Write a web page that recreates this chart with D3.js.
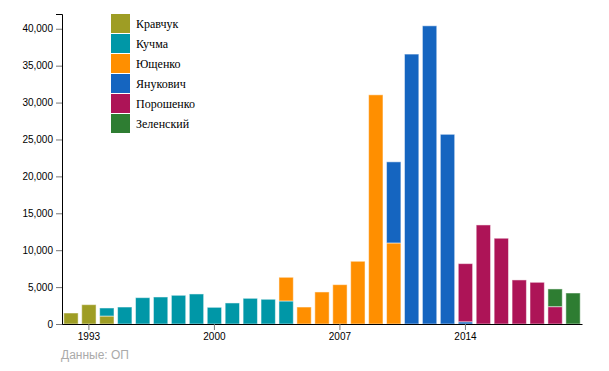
<!DOCTYPE html>
<html>
<head>
<meta charset="utf-8">
<script src="https://cdn.jsdelivr.net/npm/d3@7"></script>
<style>
    body { margin: 0; background: #fff; }
    .axis text { font-family: "Liberation Sans", Arial, sans-serif; font-size: 10px; fill: #000; }
    .axis .tick line { stroke: #777; }
</style>
</head>
<body>
<svg id="chart"></svg>
<script>
const years = d3.range(1992, 2021);
const presidents = ["Кравчук", "Кучма", "Ющенко", "Янукович", "Порошенко", "Зеленский"];
const colors = ["#9e9d24", "#0097a7", "#ff8f00", "#1565c0", "#ad1457", "#2e7d32"];
const xTicks = [1993, 2000, 2007, 2014];

// values per year, 1992..2020
const kravchuk  = [1490, 2620, 1080, 0, 0, 0, 0, 0, 0, 0, 0, 0, 0, 0, 0, 0, 0, 0, 0, 0, 0, 0, 0, 0, 0, 0, 0, 0, 0];
const kuchma    = [0, 0, 1090, 2300, 3570, 3660, 3890, 4070, 2260, 2850, 3480, 3350, 3120, 0, 0, 0, 0, 0, 0, 0, 0, 0, 0, 0, 0, 0, 0, 0, 0];
const yushchenko = [0, 0, 0, 0, 0, 0, 0, 0, 0, 0, 0, 0, 3210, 2300, 4340, 5330, 8500, 31050, 10980, 0, 0, 0, 0, 0, 0, 0, 0, 0, 0];
const yanukovych = [0, 0, 0, 0, 0, 0, 0, 0, 0, 0, 0, 0, 0, 0, 0, 0, 0, 0, 10990, 36570, 40400, 25700, 300, 0, 0, 0, 0, 0, 0];
const poroshenko = [0, 0, 0, 0, 0, 0, 0, 0, 0, 0, 0, 0, 0, 0, 0, 0, 0, 0, 0, 0, 0, 0, 7880, 13420, 11620, 5970, 5650, 2350, 0];
const zelensky  = [0, 0, 0, 0, 0, 0, 0, 0, 0, 0, 0, 0, 0, 0, 0, 0, 0, 0, 0, 0, 0, 0, 0, 0, 0, 0, 0, 2400, 4200];

const series = [kravchuk, kuchma, yushchenko, yanukovych, poroshenko, zelensky];
const rows = years.map((year, i) => {
    const row = { year };
    presidents.forEach((p, k) => row[p] = series[k][i]);
    return row;
});

const width = 609, height = 371;
const margin = { top: 14, right: 27, bottom: 47, left: 62 };

const svg = d3.select("#chart")
    .attr("width", width)
    .attr("height", height);

const x = d3.scaleBand()
    .domain(years)
    .range([margin.left, width - margin.right])
    .paddingInner(0.2)
    .paddingOuter(0.1);

const y = d3.scaleLinear()
    .domain([0, 42000])
    .range([height - margin.bottom, margin.top]);

const stacked = d3.stack().keys(presidents)(rows);

svg.append("g")
    .selectAll("g")
    .data(stacked)
    .join("g")
    .attr("fill", (d, i) => colors[i])
    .selectAll("rect")
    .data(d => d.filter(s => s[1] > s[0]))
    .join("rect")
    .attr("x", d => x(d.data.year))
    .attr("y", d => y(d[1]))
    .attr("width", x.bandwidth())
    .attr("height", d => y(d[0]) - y(d[1]))
    .attr("stroke", "#fff")
    .attr("stroke-opacity", 0.5)
    .attr("stroke-width", 1);

svg.append("g")
    .attr("class", "axis")
    .attr("transform", `translate(0, ${height - margin.bottom})`)
    .call(d3.axisBottom(x).tickValues(xTicks).tickSizeOuter(0));

svg.append("g")
    .attr("class", "axis")
    .attr("transform", `translate(${margin.left}, 0)`)
    .call(d3.axisLeft(y).ticks(8).tickFormat(d3.format(",")));

const legend = svg.append("g")
    .attr("transform", "translate(111, 14)");

const item = legend.selectAll("g")
    .data(presidents)
    .join("g")
    .attr("transform", (d, i) => `translate(0, ${i * 20})`);

item.append("rect")
    .attr("width", 19)
    .attr("height", 19)
    .attr("fill", (d, i) => colors[i]);

item.append("text")
    .attr("x", 25)
    .attr("y", 10)
    .attr("dy", "0.35em")
    .attr("font-family", "'Liberation Serif', 'Times New Roman', 'DejaVu Serif', serif")
    .attr("font-size", 12)
    .attr("fill", "#000")
    .text(d => d);

svg.append("text")
    .attr("x", 61)
    .attr("y", 359)
    .attr("fill", "#aaa")
    .attr("font-family", "'Liberation Sans', Arial, sans-serif")
    .attr("font-size", 12)
    .text("Данные: ОП");
</script>
</body>
</html>
